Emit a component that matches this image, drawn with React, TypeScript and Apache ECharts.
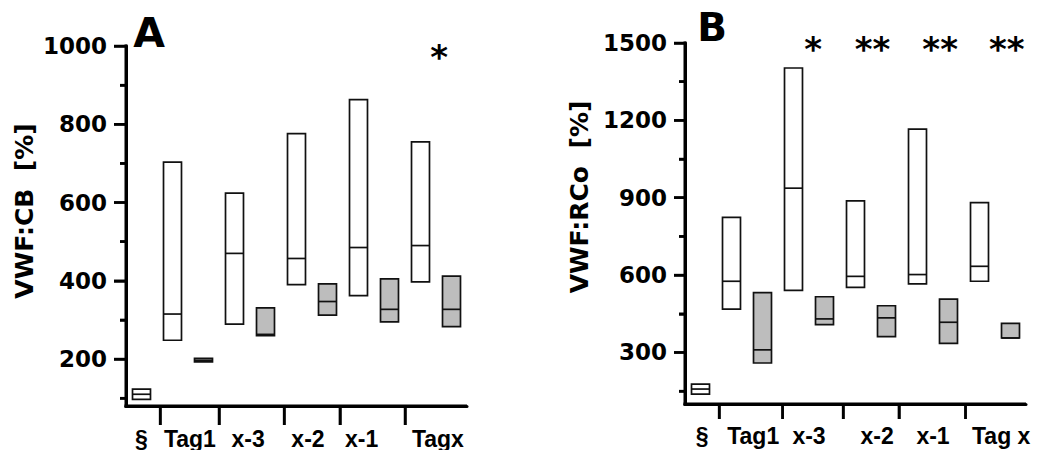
import React, { useEffect, useRef } from "react";
import * as echarts from "echarts";

// ---- Panel A : VWF:CB ----
const lowA = [97, 248, 193, 289, 260, 390, 312, 362, 295, 397, 283];
const medA = [110, 315, 197, 470, 263, 457, 347, 485, 327, 490, 327];
const highA = [123, 703, 202, 624, 331, 776, 392, 863, 405, 755, 412];
const filledA = [0, 0, 1, 0, 1, 0, 1, 0, 1, 0, 1];
const xLabelsA = ["§", "Tag1", "x-3", "x-2", "x-1", "Tagx"];
const xLabelPosA = [0.5, 2.06, 3.94, 5.87, 7.6, 10.06];
const xTickPosA = [1.1, 3.0, 5.1, 6.9, 9.0];
const yMajorA = [200, 400, 600, 800, 1000];
const yMinorA = [100, 300, 500, 700, 900];
const starTextA = ["*"];
const starXA = [10.1];
const starYA = [972];

// ---- Panel B : VWF:RCo ----
const lowB = [138, 468, 259, 541, 408, 552, 361, 566, 335, 576, 356];
const medB = [158, 576, 310, 937, 430, 595, 434, 602, 417, 634, 356];
const highB = [177, 824, 532, 1403, 516, 888, 481, 1166, 507, 881, 413];
const filledB = [0, 0, 1, 0, 1, 0, 1, 0, 1, 0, 1];
const xLabelsB = ["§", "Tag1", "x-3", "x-2", "x-1", "Tag x"];
const xLabelPosB = [0.55, 2.2, 4.0, 6.2, 8.0, 10.2];
const xTickPosB = [1.1, 3.15, 5.1, 6.9, 9.05];
const yMajorB = [300, 600, 900, 1200, 1500];
const yMinorB = [150, 450, 750, 1050, 1350];
const starTextB = ["*", "**", "**", "**"];
const starXB = [4.13, 6.05, 8.23, 10.38];
const starYB = [1475, 1475, 1475, 1475];

const BOLD_SANS = "DejaVu Sans";
const ARIAL = "Liberation Sans";

function boxData(low: number[], med: number[], high: number[], filled: number[]) {
  return low.map((l, i) => [i + 0.5, l, med[i], high[i], filled[i]]);
}

function renderBox(params: any, api: any) {
  const x = api.value(0);
  const pLow = api.coord([x, api.value(1)]);
  const pMed = api.coord([x, api.value(2)]);
  const pHigh = api.coord([x, api.value(3)]);
  const filled = api.value(4);
  const w = api.size([1, 0])[0] * 0.58;
  return {
    type: "group",
    children: [
      {
        type: "rect",
        shape: { x: pLow[0] - w / 2, y: pHigh[1], width: w, height: pLow[1] - pHigh[1] },
        style: { fill: filled ? "#bdbdbd" : "#ffffff", stroke: "#111111", lineWidth: 1.7 },
      },
      {
        type: "line",
        shape: { x1: pMed[0] - w / 2, y1: pMed[1], x2: pMed[0] + w / 2, y2: pMed[1] },
        style: { stroke: "#111111", lineWidth: 1.7 },
      },
    ],
  };
}

// Heavy axis frame, ticks and significance stars, all placed through the axis scales.
function makeFrameRenderer(cfg: any) {
  return (params: any, api: any) => {
    const ink = { stroke: "#000000", lineWidth: 3 };
    const tickInk = { stroke: "#000000", lineWidth: 2.5 };
    const origin = api.coord([cfg.xMin, cfg.yMin]);
    const top = api.coord([cfg.xMin, cfg.yMax]);
    const right = api.coord([cfg.xMax, cfg.yMin]);
    const children: any[] = [
      { type: "line", shape: { x1: origin[0], y1: top[1] - 1.5, x2: origin[0], y2: origin[1] + 1.5 }, style: ink },
      { type: "line", shape: { x1: origin[0] - 1.5, y1: origin[1], x2: right[0], y2: origin[1] }, style: ink },
    ];
    cfg.yMajor.forEach((v: number) => {
      const p = api.coord([cfg.xMin, v]);
      children.push({ type: "line", shape: { x1: p[0] - cfg.yMajorLen, y1: p[1], x2: p[0], y2: p[1] }, style: tickInk });
    });
    cfg.yMinor.forEach((v: number) => {
      const p = api.coord([cfg.xMin, v]);
      children.push({ type: "line", shape: { x1: p[0] - cfg.yMinorLen, y1: p[1], x2: p[0], y2: p[1] }, style: tickInk });
    });
    cfg.xTicks.forEach((v: number) => {
      const p = api.coord([v, cfg.yMin]);
      children.push({ type: "line", shape: { x1: p[0], y1: p[1], x2: p[0], y2: p[1] + cfg.xTickLen }, style: tickInk });
    });
    cfg.starText.forEach((t: string, i: number) => {
      const p = api.coord([cfg.starX[i], cfg.starY[i]]);
      children.push({
        type: "text",
        x: p[0],
        y: p[1],
        style: {
          text: t,
          fill: "#000000",
          font: `bold 34px "${BOLD_SANS}"`,
          align: "center",
          verticalAlign: "middle",
          textAlign: "center",
          textVerticalAlign: "middle",
        },
      });
    });
    return { type: "group", children };
  };
}

function nearestLabel(v: number, pos: number[], labels: string[]) {
  let best = 0;
  for (let i = 1; i < pos.length; i++) {
    if (Math.abs(pos[i] - v) < Math.abs(pos[best] - v)) best = i;
  }
  return labels[best];
}

function xAxisFor(gridIndex: number, ticks: number[], tickLen: number, labelPos: number[], labels: string[], margin: number) {
  return {
    type: "value",
    gridIndex,
    min: 0,
    max: 11,
    splitLine: { show: false },
    axisLine: { show: true, lineStyle: { color: "#000000", width: 3 } },
    axisTick: { show: true, length: tickLen, customValues: ticks, lineStyle: { color: "#000000", width: 2.5 } },
    axisLabel: {
      customValues: labelPos,
      margin,
      color: "#000000",
      fontFamily: ARIAL,
      fontWeight: "bold",
      fontSize: 23,
      formatter: (v: number) => nearestLabel(v, labelPos, labels),
    },
  };
}

function yAxisMajor(gridIndex: number, min: number, max: number, ticks: number[], tickLen: number, margin: number) {
  return {
    type: "value",
    gridIndex,
    position: "left",
    min,
    max,
    splitLine: { show: false },
    axisLine: { show: true, lineStyle: { color: "#000000", width: 3 } },
    axisTick: { show: true, length: tickLen, customValues: ticks, lineStyle: { color: "#000000", width: 2.5 } },
    axisLabel: {
      customValues: ticks,
      margin,
      color: "#000000",
      fontFamily: BOLD_SANS,
      fontWeight: "bold",
      fontSize: 23,
      formatter: (v: number) => String(v),
    },
  };
}

function yAxisMinor(gridIndex: number, min: number, max: number, ticks: number[], tickLen: number) {
  return {
    type: "value",
    gridIndex,
    position: "left",
    offset: 0,
    min,
    max,
    splitLine: { show: false },
    axisLine: { show: false },
    axisTick: { show: true, length: tickLen, customValues: ticks, lineStyle: { color: "#000000", width: 2.5 } },
    axisLabel: { show: false },
  };
}

export default function App() {
  const ref = useRef<HTMLDivElement>(null);

  useEffect(() => {
    if (!ref.current) return;
    const chart = echarts.init(ref.current, undefined, { renderer: "svg" });
    const frameA = {
      xMin: 0, xMax: 11, yMin: 80, yMax: 1000,
      yMajor: yMajorA, yMinor: yMinorA, xTicks: xTickPosA,
      yMajorLen: 12, yMinorLen: 6, xTickLen: 19,
      starText: starTextA, starX: starXA, starY: starYA,
    };
    const frameB = {
      xMin: 0, xMax: 11, yMin: 100, yMax: 1500,
      yMajor: yMajorB, yMinor: yMinorB, xTicks: xTickPosB,
      yMajorLen: 11, yMinorLen: 6, xTickLen: 15,
      starText: starTextB, starX: starXB, starY: starYB,
    };
    chart.setOption({
      animation: false,
      grid: [
        { left: 126, top: 46, width: 341, height: 360 },
        { left: 685, top: 43, width: 341, height: 361 },
      ],
      xAxis: [
        xAxisFor(0, xTickPosA, 19, xLabelPosA, xLabelsA, 21),
        xAxisFor(1, xTickPosB, 15, xLabelPosB, xLabelsB, 20),
      ],
      yAxis: [
        yAxisMajor(0, 80, 1000, yMajorA, 12, 19),
        yAxisMinor(0, 80, 1000, yMinorA, 6),
        yAxisMajor(1, 100, 1500, yMajorB, 11, 18),
        yAxisMinor(1, 100, 1500, yMinorB, 6),
      ],
      series: [
        {
          type: "custom",
          xAxisIndex: 0,
          yAxisIndex: 0,
          renderItem: renderBox,
          encode: { x: 0, y: [1, 2, 3] },
          data: boxData(lowA, medA, highA, filledA),
        },
        {
          type: "custom",
          xAxisIndex: 1,
          yAxisIndex: 2,
          renderItem: renderBox,
          encode: { x: 0, y: [1, 2, 3] },
          data: boxData(lowB, medB, highB, filledB),
        },
        {
          type: "custom",
          xAxisIndex: 0,
          yAxisIndex: 0,
          clip: false,
          silent: true,
          z: 5,
          renderItem: makeFrameRenderer(frameA),
          encode: { x: 0, y: 1 },
          data: [[0, 80]],
        },
        {
          type: "custom",
          xAxisIndex: 1,
          yAxisIndex: 2,
          clip: false,
          silent: true,
          z: 5,
          renderItem: makeFrameRenderer(frameB),
          encode: { x: 0, y: 1 },
          data: [[0, 100]],
        },
      ],
      graphic: [
        {
          type: "text",
          x: 149,
          y: 33,
          style: { text: "A", fill: "#000000", font: `bold 41px "${BOLD_SANS}"`, textAlign: "center", textVerticalAlign: "middle" },
        },
        {
          type: "text",
          x: 712,
          y: 27,
          style: { text: "B", fill: "#000000", font: `bold 39px "${BOLD_SANS}"`, textAlign: "center", textVerticalAlign: "middle" },
        },
        {
          type: "text",
          x: 24,
          y: 211,
          rotation: Math.PI / 2,
          style: { text: "VWF:CB  [%]", fill: "#000000", font: `bold 25px "${BOLD_SANS}"`, textAlign: "center", textVerticalAlign: "middle" },
        },
        {
          type: "text",
          x: 579,
          y: 197,
          rotation: Math.PI / 2,
          style: { text: "VWF:RCo  [%]", fill: "#000000", font: `bold 25px "${BOLD_SANS}"`, textAlign: "center", textVerticalAlign: "middle" },
        },
      ],
    });
    return () => chart.dispose();
  }, []);

  return (
    <div
      ref={ref}
      style={{ position: "absolute", left: 0, top: 0, width: 1037, height: 450, background: "#fff" }}
    />
  );
}
